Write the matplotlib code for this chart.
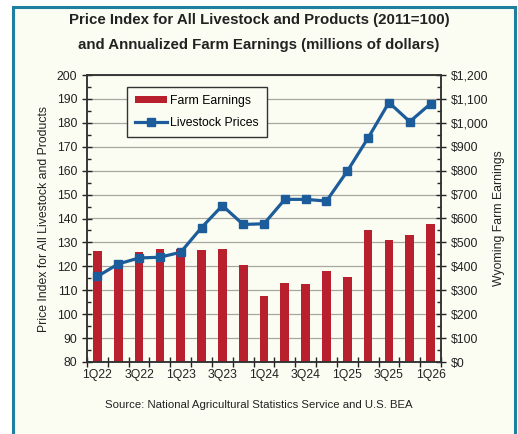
import matplotlib
matplotlib.use("Agg")
import matplotlib.pyplot as plt
from matplotlib.patches import Rectangle
from matplotlib.ticker import MultipleLocator, FixedLocator, NullFormatter
import numpy as np

plt.rcParams['font.family'] = ['Liberation Sans', 'DejaVu Sans']

# quarters 1Q22 .. 1Q26
quarters = ['1Q22', '2Q22', '3Q22', '4Q22', '1Q23', '2Q23', '3Q23', '4Q23',
            '1Q24', '2Q24', '3Q24', '4Q24', '1Q25', '2Q25', '3Q25', '4Q25', '1Q26']

# livestock price index (2011=100), left axis
livestock = [115.8, 121.0, 123.5, 123.8, 125.9, 136.2, 145.4, 137.5,
             137.8, 148.0, 148.0, 147.3, 159.8, 173.7, 188.5, 180.5, 188.0]

# annualized farm earnings (millions of dollars), right axis
earnings = [466, 405, 459, 474, 474, 469, 472, 405,
            278, 332, 327, 382, 356, 553, 509, 532, 575]

bar_col = '#b9202e'
line_col = '#1d5c9a'
bg = '#fbfdf3'
ink = '#222222'

fig = plt.figure(figsize=(5.18, 4.34), dpi=100)
fig.patch.set_facecolor('white')

# teal frame of the panel
frame = Rectangle((13 / 518, -0.05), (515 - 13) / 518, 1.05 - 7 / 434,
                  transform=fig.transFigure, facecolor=bg,
                  edgecolor='#1f7f9f', linewidth=2.2, zorder=-10)
fig.patches.append(frame)

ax = fig.add_axes([87 / 518, 1 - 362 / 434, (441 - 87) / 518, (362 - 75) / 434])
ax2 = ax.twinx()
ax.set_zorder(ax2.get_zorder() + 1)
ax.patch.set_visible(False)
ax2.patch.set_facecolor(bg)

x = np.arange(len(quarters))

bars = ax2.bar(x, earnings, width=0.42, color=bar_col, zorder=2,
               label='Farm Earnings')
line, = ax.plot(x, livestock, color=line_col, lw=2.3, marker='s',
                markersize=5.5, label='Livestock Prices', zorder=3)

ax.set_xlim(-0.5, len(quarters) - 0.5)
ax.set_ylim(80, 200)
ax2.set_ylim(0, 1200)

ax.yaxis.set_major_locator(MultipleLocator(10))
ax.yaxis.set_minor_locator(MultipleLocator(5))
ax2.yaxis.set_major_locator(MultipleLocator(100))
ax2.yaxis.set_minor_locator(MultipleLocator(50))
ax2.yaxis.set_major_formatter(lambda v, p: '${:,.0f}'.format(v))

ax2.grid(axis='y', color='#a8a8a0', lw=0.9, zorder=0)
ax2.set_axisbelow(True)

# tick marks between quarters, labels on every other quarter
ax.xaxis.set_major_locator(FixedLocator(np.arange(-0.5, len(quarters), 1)))
ax.xaxis.set_major_formatter(NullFormatter())
ax.xaxis.set_minor_locator(FixedLocator(x[::2]))
ax.set_xticklabels(quarters[::2], minor=True)
ax.tick_params(axis='x', which='major', direction='inout', length=7,
               width=1, color=ink)
ax.tick_params(axis='x', which='minor', length=0, pad=5, labelsize=8.8,
               labelcolor=ink)

ax.tick_params(axis='y', which='major', direction='inout', length=7,
               width=1, labelsize=8.8, labelcolor=ink, color=ink)
ax.tick_params(axis='y', which='minor', direction='in', length=3,
               width=1, color=ink)
ax2.tick_params(axis='y', which='major', direction='inout', length=7,
                width=1, labelsize=8.8, labelcolor=ink, color=ink)
ax2.tick_params(axis='y', which='minor', direction='in', length=3,
                width=1, color=ink)

for a in (ax, ax2):
    for s in a.spines.values():
        s.set_color('#333333')
        s.set_linewidth(1.1)

ax.set_ylabel('Price Index for All Livestock and Products', fontsize=8.8,
              color=ink, labelpad=5)
ax2.set_ylabel('Wyoming Farm Earnings', fontsize=8.8, color=ink, labelpad=3)

leg = ax.legend(handles=[bars, line], loc='upper left',
                bbox_to_anchor=(0.113, 0.958), borderaxespad=0,
                fontsize=8.8, frameon=True,
                fancybox=False, edgecolor='#333333', framealpha=1,
                facecolor=bg, handlelength=2.6, handleheight=0.5,
                labelspacing=0.85, borderpad=0.65, handletextpad=0.3)
leg.get_frame().set_linewidth(1.0)

fig.text(0.5, 1 - 20 / 434, 'Price Index for All Livestock and Products (2011=100)',
         ha='center', va='center', fontsize=10.8, fontweight='bold', color=ink)
fig.text(0.5, 1 - 45 / 434, 'and Annualized Farm Earnings (millions of dollars)',
         ha='center', va='center', fontsize=10.8, fontweight='bold', color=ink)
fig.text(0.5, 1 - 405 / 434,
         'Source: National Agricultural Statistics Service and U.S. BEA',
         ha='center', va='center', fontsize=8.2, color=ink)

fig.savefig('out.png', dpi=100, facecolor=fig.get_facecolor())
